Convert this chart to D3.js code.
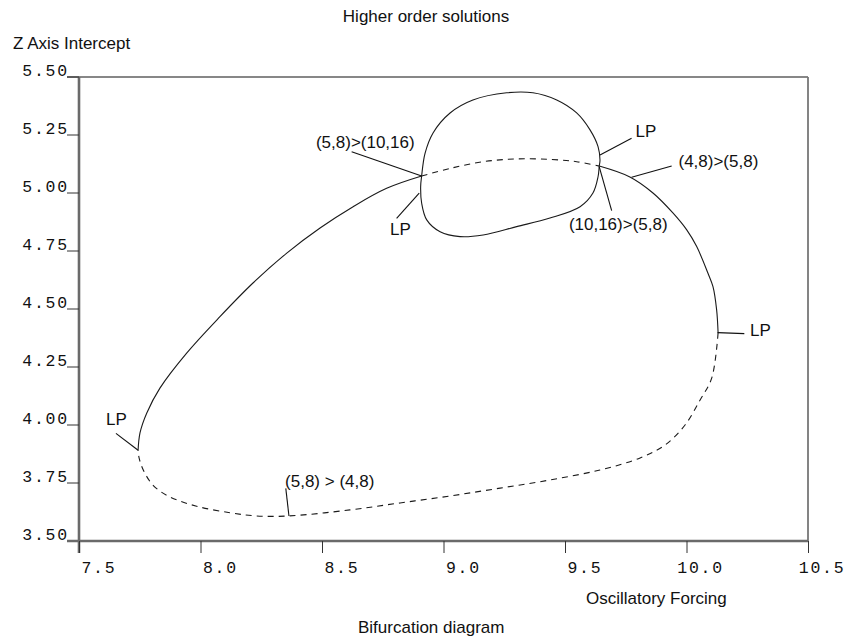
<!DOCTYPE html>
<html><head><meta charset="utf-8">
<script src="https://cdn.jsdelivr.net/npm/d3@7"></script>
<style>body{margin:0;background:#fff}</style>
</head><body><svg id="c" width="848" height="640"></svg>
<script>
// ---- data ----
const title = "Higher order solutions";
const subtitle = "Bifurcation diagram";
const xLabel = "Oscillatory Forcing";
const yLabel = "Z Axis Intercept";
const xTicks = [7.5, 8.0, 8.5, 9.0, 9.5, 10.0, 10.5];
const yTicks = [3.50, 3.75, 4.00, 4.25, 4.50, 4.75, 5.00, 5.25, 5.50];

// (4,8)/(5,8) main branch: stable (solid) and unstable (dashed) pieces
const mainSolidLeft = [[7.743,3.888],[7.751,3.966],[7.779,4.052],[7.833,4.159],[7.943,4.310],[8.080,4.467],[8.216,4.612],[8.355,4.741],[8.492,4.849],[8.628,4.941],[8.766,5.020],[8.910,5.073]];
const mainDashedTop = [[8.910,5.073],[9.027,5.106],[9.163,5.135],[9.301,5.147],[9.438,5.145],[9.548,5.135],[9.641,5.116]];
const mainSolidRight = [[9.641,5.116],[9.767,5.069],[9.862,5.000],[9.944,4.914],[10.001,4.841],[10.042,4.769],[10.088,4.655],[10.109,4.596],[10.124,4.496],[10.130,4.397]];
const mainDashedBottom = [[10.130,4.397],[10.104,4.203],[10.056,4.108],[9.994,4.000],[9.912,3.914],[9.809,3.858],[9.644,3.806],[9.438,3.763],[9.233,3.728],[9.027,3.694],[8.821,3.664],[8.615,3.634],[8.364,3.608],[8.231,3.608],[8.121,3.622],[7.984,3.650],[7.870,3.692],[7.805,3.740],[7.765,3.805],[7.748,3.855],[7.743,3.888]];
// (10,16) period-doubled closed loop
const loop1016 = [[8.910,5.073],[8.924,5.171],[8.957,5.259],[9.027,5.345],[9.121,5.401],[9.260,5.432],[9.368,5.432],[9.466,5.401],[9.548,5.345],[9.603,5.272],[9.636,5.200],[9.644,5.142],[9.641,5.116],[9.636,5.070],[9.615,5.000],[9.562,4.941],[9.438,4.892],[9.301,4.855],[9.163,4.819],[9.068,4.812],[8.986,4.833],[8.931,4.884],[8.910,4.957],[8.906,5.028]];

// annotations: text, text anchor point, leader line from -> to (data units)
const annoText = ["(5,8)>(10,16)", "LP", "LP", "(4,8)>(5,8)", "(10,16)>(5,8)", "LP", "LP", "(5,8) > (4,8)"];
const annoAt   = [[8.475,5.193],[8.780,4.819],[9.790,5.241],[9.967,5.113],[9.516,4.841],[10.261,4.384],[7.611,4.000],[8.348,3.734]];
const annoFrom = [[8.622,5.178],[8.807,4.891],[9.774,5.236],[9.939,5.116],[9.692,4.924],[10.238,4.394],[7.652,3.964],[8.351,3.727]];
const annoTo   = [[8.910,5.073],[8.900,4.999],[9.644,5.164],[9.774,5.068],[9.641,5.113],[10.128,4.398],[7.742,3.892],[8.364,3.608]];

// ---- drawing ----
const svg = d3.select("#c");
const L = 79, R = 808, T = 77, B = 541;
const x = d3.scaleLinear().domain([7.5, 10.5]).range([L, R]);
const y = d3.scaleLinear().domain([3.5, 5.5]).range([B, T]);
const sans = "'Liberation Sans', Arial, sans-serif";
const mono = "'Liberation Mono', 'DejaVu Sans Mono', monospace";

// frame: top and right
svg.append("line").attr("x1", L - 12).attr("x2", R).attr("y1", T).attr("y2", T)
  .attr("stroke", "#111").attr("stroke-width", 1.2);
svg.append("line").attr("x1", R).attr("x2", R).attr("y1", T).attr("y2", B)
  .attr("stroke", "#777").attr("stroke-width", 1.8);

// y axis
const yAxis = d3.axisLeft(y).tickValues(yTicks).tickSize(12).tickFormat(d3.format(".2f"));
const gy = svg.append("g").attr("transform", `translate(${L},0)`).call(yAxis);
gy.select(".domain").attr("d", `M0,${T}V${B + 12}`).attr("stroke", "#6a6a6a").attr("stroke-width", 2.6);
gy.selectAll(".tick line").attr("stroke", "#333").attr("stroke-width", 1).attr("transform", "translate(0,-0.5)");
gy.selectAll(".tick text").attr("font-family", mono).attr("font-size", 16.5).attr("letter-spacing", 1.8)
  .attr("fill", "#111").attr("x", -10).attr("dy", "-0.1em").attr("text-anchor", "end");

// x axis
const xAxis = d3.axisBottom(x).tickValues(xTicks).tickSize(12).tickFormat(d3.format(".1f"));
const gx = svg.append("g").attr("transform", `translate(0,${B})`).call(xAxis);
gx.select(".domain").attr("d", `M${L - 12},0H${R}`).attr("stroke", "#6a6a6a").attr("stroke-width", 2.6);
gx.selectAll(".tick line").attr("stroke", "#333").attr("stroke-width", 1);
gx.selectAll(".tick text").attr("font-family", mono).attr("font-size", 16.5).attr("letter-spacing", 1.8)
  .attr("fill", "#111").attr("text-anchor", "end").attr("x", 37).attr("y", 32).attr("dy", 0);

// curves
const line = d3.line().x(d => x(d[0])).y(d => y(d[1])).curve(d3.curveCatmullRom.alpha(0.5));
const closed = d3.line().x(d => x(d[0])).y(d => y(d[1])).curve(d3.curveCatmullRomClosed.alpha(0.5));
const curves = svg.append("g").attr("fill", "none").attr("stroke", "#1a1a1a").attr("stroke-width", 1.1);
[mainSolidLeft, mainSolidRight].forEach(p => curves.append("path").attr("d", line(p)));
[mainDashedTop, mainDashedBottom].forEach(p => curves.append("path").attr("d", line(p)).attr("stroke-dasharray", "6,5"));
curves.append("path").attr("d", closed(loop1016));

// annotations
const ga = svg.append("g");
annoText.forEach((t, i) => {
  ga.append("line").attr("x1", x(annoFrom[i][0])).attr("y1", y(annoFrom[i][1]))
    .attr("x2", x(annoTo[i][0])).attr("y2", y(annoTo[i][1]))
    .attr("stroke", "#111").attr("stroke-width", 1.1);
  ga.append("text").attr("x", x(annoAt[i][0])).attr("y", y(annoAt[i][1]))
    .attr("font-family", sans).attr("font-size", 17).attr("fill", "#111").text(t);
});

// titles
svg.append("text").attr("x", 426).attr("y", 22).attr("text-anchor", "middle")
  .attr("font-family", sans).attr("font-size", 17).attr("fill", "#111").text(title);
svg.append("text").attr("x", 13).attr("y", 49)
  .attr("font-family", sans).attr("font-size", 17).attr("fill", "#111").text(yLabel);
svg.append("text").attr("x", 586).attr("y", 604)
  .attr("font-family", sans).attr("font-size", 17).attr("fill", "#111").text(xLabel);
svg.append("text").attr("x", 358).attr("y", 633)
  .attr("font-family", sans).attr("font-size", 17).attr("fill", "#111").text(subtitle);
</script>
</body></html>
